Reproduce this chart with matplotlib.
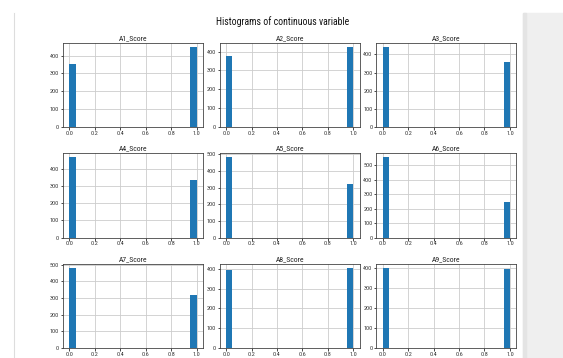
import numpy as np
import matplotlib
matplotlib.use('Agg')
import matplotlib.pyplot as plt
from matplotlib.patches import Rectangle
from matplotlib.lines import Line2D

plt.rcParams['font.family'] = ['Roboto Condensed', 'DejaVu Sans']

# counts of 0 and 1 for each score column
names = ['A1_Score', 'A2_Score', 'A3_Score',
         'A4_Score', 'A5_Score', 'A6_Score',
         'A7_Score', 'A8_Score', 'A9_Score']
zeros = [352, 376, 440, 466, 481, 556, 482, 395, 403]
ones = [448, 424, 360, 334, 319, 244, 318, 405, 397]
values = [0, 1]
xticks = [0.0, 0.2, 0.4, 0.6, 0.8, 1.0]

fig, axes = plt.subplots(3, 3, figsize=(5.63, 3.58), dpi=100)
fig.subplots_adjust(left=0.112, right=0.917, top=0.88, bottom=0.028,
                    wspace=0.12, hspace=0.31)

# screenshot frame: thin line on the left and grey panel on the right
fig.patches.append(Rectangle((523 / 563, 0), 40 / 563, 1 - 13 / 358,
                             transform=fig.transFigure, color='#efefef', zorder=-5))
fig.patches.append(Rectangle((523 / 563, 0), 3 / 563, 1 - 13 / 358,
                             transform=fig.transFigure, color='#e4e4e4', zorder=-4))
fig.lines.append(Line2D([14 / 563, 14 / 563], [0, 1 - 13 / 358],
                        transform=fig.transFigure, color='#dddddd', lw=0.8))

for ax, name, z, o in zip(axes.flat, names, zeros, ones):
    ax.hist(values, bins=20, range=(0, 1), weights=[z, o], color='#1f77b4', zorder=2)
    ax.grid(True, color='#cccccc', lw=0.6, zorder=0)
    ax.set_xticks(xticks)
    ax.set_xticklabels([f'{t:.1f}' for t in xticks])
    ax.set_title(name, fontsize=5.5, pad=2, color='#222222')
    ax.tick_params(labelsize=4.4, length=1.8, width=0.5, pad=1, labelcolor='#333333')
    for s in ax.spines.values():
        s.set_linewidth(0.6)
        s.set_color('#444444')

fig.suptitle('Histograms of continuous variable', fontsize=7,
             x=(63 + 516) / 2 / 563 - 0.012, y=0.955, color='#111111')

fig.savefig('out.png', dpi=100)
